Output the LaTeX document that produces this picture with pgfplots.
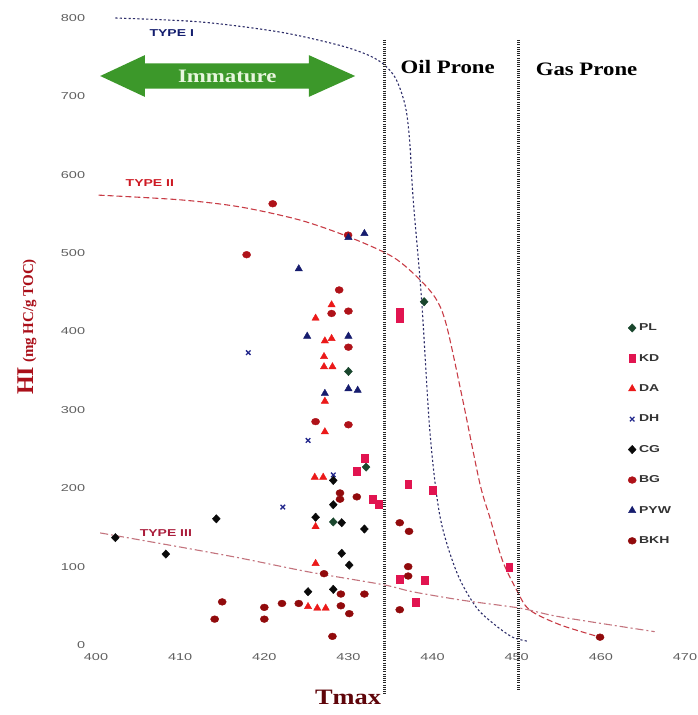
\documentclass[border=0pt]{standalone}
\usepackage{fontspec}
\setmainfont{Liberation Serif}
\setsansfont{Liberation Sans}
\usepackage{pgfplots}
\pgfplotsset{compat=1.18}
\definecolor{tickgray}{RGB}{95,95,95}
\definecolor{cPL}{RGB}{25,70,45}
\definecolor{cKD}{RGB}{225,20,80}
\definecolor{cDA}{RGB}{235,25,25}
\definecolor{cDH}{RGB}{35,40,140}
\definecolor{cCG}{RGB}{10,10,10}
\definecolor{cBG}{RGB}{175,18,25}
\definecolor{cPYW}{RGB}{22,28,110}
\definecolor{cBKH}{RGB}{145,10,12}
\definecolor{tIline}{RGB}{45,45,105}
\definecolor{tIIline}{RGB}{200,60,70}
\definecolor{tIIIline}{RGB}{195,115,125}
\definecolor{tIlab}{RGB}{20,30,110}
\definecolor{tIIlab}{RGB}{205,25,35}
\definecolor{tIIIlab}{RGB}{170,30,60}
\definecolor{immgreen}{RGB}{60,152,42}
\definecolor{labred}{RGB}{170,15,25}
\definecolor{tmaxcol}{RGB}{95,5,10}
\begin{document}
\begin{tikzpicture}[x=1pt,y=1pt]
\useasboundingbox (0,0) rectangle (698,715);
\begin{axis}[
  at={(96pt,70pt)}, anchor=south west,
  scale only axis, width=589pt, height=627pt,
  xmin=400, xmax=470, ymin=0, ymax=800,
  axis line style={draw=none},
  major tick length=0pt,
  xtick={400,410,...,470}, ytick={0,100,...,800},
  clip=false,
  /pgf/number format/assume math mode=true,
  ticklabel style={font=\sffamily\fontsize{10}{10}\selectfont, text=tickgray, xscale=1.45},
  xticklabel style={yshift=-5pt},
  yticklabel style={xshift=-4pt},
  legend style={at={(0.898,0.519)}, anchor=north west, draw=none, fill=none,
    font=\sffamily\bfseries\fontsize{10}{10}\selectfont, text=black!80, row sep=18pt,
    nodes={xscale=1.4}},
  legend cell align=left,
  legend image code/.code={\draw[#1] plot coordinates {(0.12cm,0cm)};},
]
% Immature arrow
\fill[immgreen] (axis cs:400.5,726) -- (axis cs:405.8,752.6) -- (axis cs:405.8,742) -- (axis cs:425.3,742) -- (axis cs:425.3,752.6) -- (axis cs:430.8,726) -- (axis cs:425.3,699.4) -- (axis cs:425.3,710) -- (axis cs:405.8,710) -- (axis cs:405.8,699.4) -- cycle;
\node[text={rgb,255:red,232;green,246;blue,222}, font=\bfseries\fontsize{19}{19}\selectfont, xscale=1.2] at (axis cs:415.6,726) {Immature};
% Type curves
\addplot[forget plot, tIline, line width=1.1pt, dash pattern=on 2.2pt off 2.2pt, smooth] coordinates {
(402.3,800) (412.4,795) (421.9,782) (429,765) (432.5,752) (434.3,740) (435.5,725) (436.3,705) (436.9,680) (437.3,640) (437.7,568) (438.7,440) (439.7,270) (440.9,163) (442.9,92) (445.2,48) (447.5,25) (449.5,10) (451.2,5)};
\addplot[forget plot, tIIline, line width=1.1pt, dash pattern=on 6pt off 3pt, smooth] coordinates {
(400.3,574) (410,568) (417.1,559) (424.3,542) (430.2,520) (435.3,495) (438.5,466) (440.5,440) (441.7,406) (443.6,312) (445.6,207) (446.8,163) (448.3,108) (450,70) (451.5,45) (455.1,26) (459.9,10)};
\addplot[forget plot, tIIIline, line width=1.1pt, dash pattern=on 8pt off 3pt on 2pt off 3pt, smooth] coordinates {
(400.5,143) (410,125) (417.1,111) (425.4,93) (434.1,77) (437.6,68) (443.6,57) (450.4,47) (455.1,36) (466.4,17)};
% vertical dotted boundaries
\addplot[forget plot, black!85, line width=2.4pt, dash pattern=on 1.1pt off 1.1pt] coordinates {(434.3,772) (434.3,-64)};
\addplot[forget plot, black!85, line width=2.4pt, dash pattern=on 1.1pt off 1.1pt] coordinates {(450.2,772) (450.2,-58)};
% labels
\node[tIlab, font=\sffamily\bfseries\fontsize{10}{10}\selectfont, xscale=1.4] at (axis cs:409.0,781) {TYPE I};
\node[tIIlab, font=\sffamily\bfseries\fontsize{10}{10}\selectfont, xscale=1.4] at (axis cs:406.4,589) {TYPE II};
\node[tIIIlab, font=\sffamily\bfseries\fontsize{10}{10}\selectfont, xscale=1.4] at (axis cs:408.3,143) {TYPE III};
\node[black, font=\bfseries\fontsize{19}{19}\selectfont, xscale=1.2] at (axis cs:441.8,738) {Oil Prone};
\node[black, font=\bfseries\fontsize{19}{19}\selectfont, xscale=1.2] at (axis cs:458.3,735) {Gas Prone};
% data
\addplot[only marks, mark=diamond*, mark size=4.2pt, color=cPL, mark options={xscale=1.25}] coordinates {
(439.0,438) (430.0,349) (432.1,227) (428.2,157)};
\addlegendentry{PL}
\addplot[only marks, mark=square*, mark size=3.4pt, color=cKD, mark options={yscale=1.2}] coordinates {
(436.1,425) (436.1,417) (431.9,238) (431.0,222) (432.9,186) (433.6,180) (437.1,205) (440.0,198) (436.1,84) (439.1,83) (438.0,55) (449.1,99)};
\addlegendentry{KD}
\addplot[only marks, mark=triangle*, mark size=4.2pt, color=cDA] coordinates {
(428.0,434) (426.1,417) (427.2,388) (428.0,391) (427.1,368) (427.1,355) (428.1,355) (427.2,311) (427.2,272) (426.0,214) (427.0,214) (426.1,151) (426.1,104) (425.2,49) (426.3,47) (427.3,47)};
\addlegendentry{DA}
\addplot[only marks, mark=x, mark size=3.2pt, line width=1.3pt, color=cDH] coordinates {
(418.1,373) (425.2,261) (428.2,217) (422.2,176)};
\addlegendentry{DH}
\addplot[only marks, mark=diamond*, mark size=4.2pt, color=cCG, mark options={xscale=1.25}] coordinates {
(402.3,137) (408.3,116) (414.3,161) (428.2,210) (428.2,179) (426.1,163) (429.2,156) (431.9,148) (429.2,117) (430.1,102) (425.2,68) (428.2,71)};
\addlegendentry{CG}
\addplot[only marks, mark=*, mark size=3.4pt, color=cBG, mark options={xscale=1.2}] coordinates {
(421.0,563) (417.9,498) (429.96,523) (428.9,453) (428.0,423) (430.0,426) (430.0,380) (426.1,285) (430.0,281)};
\addlegendentry{BG}
\addplot[only marks, mark=triangle*, mark size=4.2pt, color=cPYW] coordinates {
(424.1,480) (430.0,520) (431.9,525) (425.1,394) (430.0,394) (430.0,327) (431.1,325) (427.2,321)};
\addlegendentry{PYW}
\addplot[only marks, mark=*, mark size=3.4pt, color=cBKH, mark options={xscale=1.2}] coordinates {
(429.0,194) (429.0,186) (431.0,189) (427.1,91) (429.1,65) (431.9,65) (420.0,48) (422.1,53) (424.1,53) (429.1,50) (430.1,40) (420.0,33) (428.1,11) (415.0,55) (414.1,33) (436.1,156) (437.2,145) (437.1,100) (437.1,88) (436.1,45) (459.9,10)};
\addlegendentry{BKH}
\end{axis}
\node[labred, rotate=90] at (27,388) {\bfseries\fontsize{24}{24}\selectfont HI\,{\fontsize{15}{15}\selectfont (mg HC/g TOC)}};
\node[tmaxcol, font=\bfseries\fontsize{22}{22}\selectfont, xscale=1.2] at (348,18) {Tmax};
\end{tikzpicture}
\end{document}
